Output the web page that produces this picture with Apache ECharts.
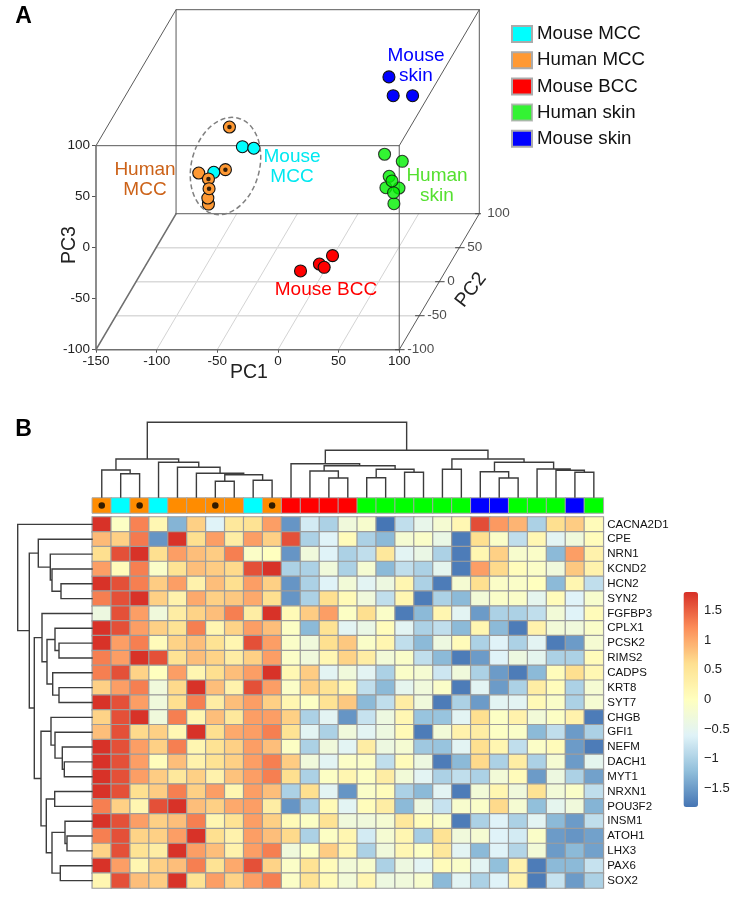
<!DOCTYPE html>
<html>
<head>
<meta charset="utf-8">
<style>html,body{margin:0;padding:0;background:#fff}#c{width:742px;height:907px}</style>
<script src="https://cdn.jsdelivr.net/npm/echarts@6/dist/echarts.min.js"></script>
</head>
<body>
<div id="c"></div>
<script>
// ---- Panel A: points, as [x, y] on the front-face PC1/PC3 scales
const mouseMCC = [[-29.3,99],[-19.9,97.5],[-52.9,73.9]];
const humanMCCPlain = [[-57.3,42.8],[-57.8,48.7],[-65.3,73.2]];
const humanMCCDotted = [[-40,118.3],[-43.3,76.5],[-57.3,67.4],[-56.8,57.8]];
const mouseBCC = [[45,-7.8],[34.2,-16],[38.1,-19.2],[18.6,-22.8]];
const humanSkin = [[87.9,91.6],[102.5,84.7],[91.7,70],[89,58.8],[99.8,58.5],[95.6,43.1],[95.3,53.9],[94,65.4]];
const mouseSkin = [[91.5,167.4],[95,149],[111,149]];
const pc1Ticks = [-150,-100,-50,0,50,100];
const pc2Ticks = [-100,-50,0,50,100];
const pc3Ticks = [-100,-50,0,50,100];
const legendNames = ['Mouse MCC','Human MCC','Mouse BCC','Human skin','Mouse skin'];

// ---- Panel B
const genes = ['CACNA2D1','CPE','NRN1','KCND2','HCN2','SYN2','FGFBP3','CPLX1','PCSK2','RIMS2','CADPS','KRT8','SYT7','CHGB','GFI1','NEFM','DACH1','MYT1','NRXN1','POU3F2','INSM1','ATOH1','LHX3','PAX6','SOX2'];
const sampleGroups = [1,0,1,0,1,1,1,1,0,1,2,2,2,2,3,3,3,3,3,3,4,4,3,3,3,4,3];
const dottedSamples = [0,2,6,9];
const heat = [
[1.8,-.05,1.28,.15,-1.3,.72,-.6,.45,.55,1.08,-1.55,-.7,-1,-.3,-.15,-1.8,-.85,-.45,-.2,.15,1.62,1.12,.92,-1,.6,.75,.07],
[.88,.72,1.33,-1.55,1.8,.6,1.08,.35,1.08,.72,1.6,-1,-.6,.07,-1,-1.25,-.2,-.1,-.4,-1.75,.6,-.1,-.85,.15,-.55,-.3,.05],
[.6,1.6,1.8,.6,1.08,.85,.75,1.3,-.08,0,-1.55,-.3,-.6,-1,-.85,.45,-.55,-.4,-1,-1.75,.18,.72,-.15,-.1,-1.25,1.08,.25],
[1.08,.07,1.3,-.1,.55,.85,.75,.65,1.6,1.8,-1,-1,-.3,-1,-.2,-1.25,-.85,-1,-.5,-1.75,1.08,.65,.05,-.08,-.3,.78,.25],
[1.8,1.6,1.3,.75,1.08,.25,.85,.6,1.08,.72,-1.55,-1,-.6,-.25,-.55,-.35,.18,-1,-1.75,-.2,.6,-.08,-.1,0,-1.25,.18,-.85],
[1.3,1.6,1.8,.72,.25,1,.72,.78,1,.6,-1.55,-1,.6,.1,-.3,-.85,.18,-1.75,-1,-1.25,-.25,-.1,-.1,-.5,.07,-.6,-.15],
[-.35,1.6,1.08,-.3,.35,.7,.85,1.3,.35,1.8,.1,.75,1.08,-.05,.6,-.1,-1.75,-1.25,.18,-.55,-1.5,-1,-1,-.85,-.25,-.6,.07],
[1.8,1.6,1.08,.72,.55,1.3,.18,.7,1.08,.85,-.05,-1.25,.55,-.55,-.4,.05,-.55,-1,-.85,-1.25,.18,-1.25,-1.75,.25,-.25,-.3,-.1],
[1.8,1.08,1.3,.07,.7,.85,.55,.18,1.6,1.08,-.1,-.3,.6,.78,-.1,.18,-.85,-1.25,-.35,.07,-1,-.6,-1,-.55,-1.75,-1.5,-.2],
[1.3,1.08,1.8,1.6,.55,.85,.7,.35,.72,1.08,-.08,-.3,.15,.7,.35,-.25,-.1,-.85,-1.25,-1.75,-1.5,-.6,-.35,-.5,-1,-1,.07],
[1.3,1.6,.7,0,1.08,.18,.6,.85,1.08,1.8,.15,.75,-.55,-.3,-.55,-1,-.1,-.2,-.75,-.3,-1,-1.5,-1.75,-1.25,.05,.6,.15],
[.72,1.08,1.3,-.3,.65,1.8,.85,.25,1.6,1.08,-.08,.72,.55,.15,-.85,-1.25,-.5,-.3,-.1,-1.75,-.55,-1.5,-1,.35,.05,-1,-.2],
[1.8,1.6,1.08,-.3,.6,1.3,.35,.85,1.08,.72,.18,-.05,.55,.78,-1.25,-.85,.35,-.3,-1.75,-1,-1.5,-.55,-.55,.1,-.1,-1,-.2],
[.7,1.6,1.8,-.3,1.3,.18,.85,.45,1.08,1.08,.72,-1,-.55,-1.55,-.8,-.35,.15,-1.15,-1.15,-.55,.6,-.05,.25,-.25,-.05,.25,-1.75],
[.85,1.6,.65,.72,.15,1.8,.6,1,1.08,1.3,.55,-.55,-1,-.3,-.55,-.35,.1,-1.75,-.25,.25,.35,-.05,-.1,-1.25,-.85,-1.5,-1],
[1.8,1.6,1.08,.72,1.3,.18,.55,.72,1.08,.85,-.05,-1,-.3,-.55,.35,-.35,-.2,-1.1,-1.15,-.55,.6,.18,-.85,-.08,.07,-1.5,-1.75],
[1.8,1.6,1.08,.05,.85,.25,.55,.72,1.08,1.3,.75,-.3,-.55,-.08,-.08,-.85,.07,-.35,-1.75,-1.25,.65,-1,.35,-1,-.2,-1.5,-.5],
[1.8,1.6,1.08,.75,.45,.72,.25,.82,1.08,1.3,.6,-1,-.05,.18,-.03,.35,-.25,-.55,-1,-.85,-1,-.25,.07,-1.5,-.35,-1,-1.45],
[1.8,1.6,.6,.75,1.3,.72,1.08,.18,1.08,.85,-1,.6,-.55,-1.55,-.1,.05,-1,-1.25,-.55,-1.75,-.25,.18,-.3,.55,-.25,-.1,-.85],
[1.3,.72,.18,1.6,1.8,.85,.72,1,1.08,.35,-1.55,-1,.1,-.55,.05,.35,-1.25,-.35,-.8,-.15,-.1,.65,-.2,-1.2,-.5,-.3,-1.3],
[1.8,1.6,1.08,.72,.85,1.3,.18,.55,1.08,.72,.1,-.05,.55,-.3,-.3,-.2,.45,.05,-.1,-1.75,-1,-.6,-1,-.55,-1.25,-1.5,-.85],
[1.3,1.6,.7,.72,1.08,1.8,.6,.25,1.08,.85,.65,-1,-.05,.18,-.7,-.2,.18,-1.05,.55,-.3,-.2,-.6,-.7,-.1,-1.5,-1.55,-1.45],
[.7,1.6,.55,.35,1.8,1.08,.85,.25,1.08,1.3,-.3,-.05,.75,.15,-1,-.3,.15,-.05,.45,-.55,-1.25,-.6,-.95,-.25,-1.5,-1.25,-1.45],
[1.8,1.08,.18,.72,.85,1.3,.55,1,1.6,.7,-.08,.55,.07,-.25,-.15,-1,-.35,-.55,.07,-.1,-.55,-1.2,.25,-1.75,-1.25,-1.25,-.8],
[.18,1.6,.85,.75,1.8,.55,1.08,.7,1.08,1.3,-.08,.55,.1,-.25,.18,-.35,-.3,-.15,-1.25,-.55,-1,-.6,.25,-1.75,-.8,-1.5,-1]
];
const colourTicks = [-1.5,-1,-.5,0,.5,1,1.5];
// Dendrograms: [left, right, merge height]; a plain number is a leaf index
const colTree = [
  [[0,[1,2,23.3],27],[3,[4,[5,[[6,7,15.7],[8,9,16.7],22.3],23.7],29.7],34.7],38],
  [[10,[[11,[12,13,19],26],[[14,15,19.3],[16,17,24.7],27.7],31.3],33.3],
   [[18,19,27.7],[[20,[21,22,19],25.3],[23,[24,[25,26,24.7],26.7],28],34.7],38],46.7],
  74.7];
const rowTree = [0,
  [[1,[2,[3,[4,5,31],40],41.7],53.7],
   [[6,[[7,[8,9,33],37],[10,[11,12,33],39.3],45],50],
    [[13,[14,[15,[16,17,27.7],29.7],37],41],
     [[18,19,37.3],[[20,[21,22,25],27],[23,24,31.7],40],45.7],51],57.7],62.7],
  74.3];

// ---- helpers
const FONT = '"Liberation Sans", Arial, sans-serif';
const K1 = 0.33, K3 = 0.6665;
const project = (pc1, pc2, pc3) => [pc1 + (pc2 + 100) * K1, pc3 + (pc2 + 100) * K3];
function segs(list) { const out = []; list.forEach(s => { out.push(...s, [null, null]); }); return out; }

const boxDark = [
  [project(-150,100,-100),project(100,100,-100),project(100,100,100),project(-150,100,100),project(-150,100,-100)],
  [project(-150,-100,100),project(100,-100,100),project(100,-100,-100)],
  [project(-150,-100,100),project(-150,100,100)],
  [project(100,-100,100),project(100,100,100)],
  [project(100,-100,-100),project(100,100,-100)]
];
const boxThick = [
  [project(-150,-100,100),project(-150,-100,-100),project(100,-100,-100)],
  [project(-150,-100,-100),project(-150,100,-100)]
];
const floorPC1 = pc1Ticks.slice(1,5).map(v => [project(v,-100,-100),project(v,100,-100)]);
const floorPC2 = pc2Ticks.slice(1,4).map(v => [project(-150,v,-100),project(100,v,-100)]);
const pc2Marks = pc2Ticks.map(v => { const p = project(100,v,-100); return [[p[0]-3,p[1]],[p[0]+4,p[1]]]; });

function dendro(tree, horizontalLeaves) {
  const lines = [];
  const pt = (pos, h) => horizontalLeaves ? [pos, h] : [h, pos];
  (function walk(n) {
    if (typeof n === 'number') return { pos: n, h: 0 };
    const a = walk(n[0]), b = walk(n[1]), h = n[2];
    lines.push([pt(a.pos,a.h),pt(a.pos,h),pt(b.pos,h),pt(b.pos,b.h)]);
    return { pos: (a.pos + b.pos) / 2, h };
  })(tree);
  return segs(lines);
}

const heatData = [];
heat.forEach((row, r) => row.forEach((v, c) => heatData.push([c, r, v])));
const sampleIds = sampleGroups.map((_, i) => 'S' + (i + 1));
const stops = ['#4575B4','#91BFDB','#E0F3F8','#FFFFBF','#FEE090','#FC8D59','#D73027'];
const groupColours = ['#00FFFF','#FF8C00','#FF0000','#00FF00','#0000FF'];

const line = (name, data, color, width, xi, yi, z) => ({
  name, type:'line', data, xAxisIndex:xi, yAxisIndex:yi, showSymbol:false, symbol:'none', silent:true,
  connectNulls:false, clip:false, lineStyle:{color, width, cap:'square', join:'miter'}, z
});
const pts = (name, data, color) => ({
  name, type:'scatter', data, xAxisIndex:0, yAxisIndex:0, symbol:'circle', symbolSize:12, clip:false, z:5,
  itemStyle:{color, borderColor:'#111', borderWidth:1.1, opacity:1}
});
const txt = (text, x, y, color, size, extra) => Object.assign({
  type:'text', x, y, z:20, style:Object.assign({text, fill:color, font:`${size}px ${FONT}`, align:'center', verticalAlign:'middle', lineHeight:size+0.5}, extra||{})
}, {});

const option = {
  animation:false,
  backgroundColor:'#fff',
  textStyle:{fontFamily:FONT},
  legend:{
    data:legendNames, orient:'vertical', left:511, top:24, padding:0, itemWidth:20, itemHeight:16, itemGap:6.2,
    icon:'rect', selectedMode:false,
    itemStyle:{borderColor:'#ABABAB',borderWidth:2},
    textStyle:{fontFamily:FONT,fontSize:18.7,color:'#111',lineHeight:20}
  },
  grid:[
    {left:96,top:9.7,width:383.3,height:340,containLabel:false},
    {left:92.3,top:517,width:511,height:371},
    {left:92.3,top:498,width:511,height:15},
    {left:92.3,top:422,width:511,height:75},
    {left:17,top:517,width:75,height:371},
    {left:684,top:592,width:14,height:215}
  ],
  xAxis:[
    {type:'value',gridIndex:0,min:-150,max:166,
      axisLine:{show:false,onZero:false},splitLine:{show:false},
      axisTick:{show:true,length:3,customValues:pc1Ticks,lineStyle:{color:'#555'}},
      axisLabel:{customValues:pc1Ticks,margin:5,color:'#222',fontSize:13.5,fontFamily:FONT,hideOverlap:false,showMinLabel:true,showMaxLabel:true}},
    {type:'category',gridIndex:1,data:sampleIds,show:false},
    {type:'category',gridIndex:2,data:sampleIds,show:false},
    {type:'value',gridIndex:3,min:-0.5,max:26.5,show:false},
    {type:'value',gridIndex:4,min:0,max:75,inverse:true,show:false},
    {type:'value',gridIndex:5,min:0,max:1,show:false}
  ],
  yAxis:[
    {type:'value',gridIndex:0,min:-100,max:233.3,
      axisLine:{show:false,onZero:false},splitLine:{show:false},
      axisTick:{show:true,length:4,customValues:pc3Ticks,lineStyle:{color:'#555'}},
      axisLabel:{customValues:pc3Ticks,margin:6,color:'#222',fontSize:13.5,fontFamily:FONT}},
    {type:'category',gridIndex:1,data:genes,inverse:true,position:'right',
      axisLine:{show:false},axisTick:{show:false},splitLine:{show:false},
      axisLabel:{interval:0,margin:4,color:'#111',fontSize:11.5,fontFamily:FONT}},
    {type:'category',gridIndex:2,data:['annotation'],show:false},
    {type:'value',gridIndex:3,min:0,max:75,show:false},
    {type:'value',gridIndex:4,min:-0.5,max:24.5,inverse:true,show:false},
    {type:'value',gridIndex:5,min:-1.81,max:1.81,position:'right',
      axisLine:{show:false},axisTick:{show:false},splitLine:{show:false},
      axisLabel:{customValues:colourTicks,margin:6,color:'#222',fontSize:13,fontFamily:FONT,
        formatter:v=>String(v).replace('-','\u2212')}}
  ],
  visualMap:[
    {type:'continuous',seriesIndex:0,min:-1.81,max:1.81,calculable:false,left:683.5,top:592,itemWidth:14.5,itemHeight:215,
      inRange:{color:stops},text:['',''],padding:0,textGap:0,hoverLink:false,realtime:false},
    {type:'piecewise',seriesIndex:1,show:false,dimension:2,
      pieces:groupColours.map((color,i)=>({value:i,color}))}
  ],
  series:[
    {name:'Expression',type:'heatmap',xAxisIndex:1,yAxisIndex:1,data:heatData,progressive:0,
      itemStyle:{borderColor:'#9C9C9C',borderWidth:1.2},emphasis:{disabled:true}},
    {name:'Group',type:'heatmap',xAxisIndex:2,yAxisIndex:2,progressive:0,
      data:sampleGroups.map((g,i)=>[i,0,g]),
      itemStyle:{borderColor:'#A8A8A8',borderWidth:1},emphasis:{disabled:true}},
    {name:'Dotted samples',type:'scatter',xAxisIndex:2,yAxisIndex:2,symbol:'circle',symbolSize:6.5,z:6,
      data:dottedSamples.map(i=>[i,0]),itemStyle:{color:'#000'}},
    line('Top dendrogram',dendro(colTree,true),'#3c3c3c',1.4,3,3,3),
    line('Left dendrogram',dendro(rowTree,false),'#3c3c3c',1.4,4,4,3),
    line('PC1 floor lines',segs(floorPC1),'#C8C8C8',0.8,0,0,1),
    line('PC2 floor lines',segs(floorPC2),'#DADADA',1.5,0,0,1),
    line('Box',segs(boxDark),'#5a5a5a',1,0,0,2),
    line('Box thick',segs(boxThick),'#707070',1.6,0,0,2),
    line('PC2 ticks',segs(pc2Marks),'#444',1,0,0,2),
    {name:'PC2 labels',type:'scatter',xAxisIndex:0,yAxisIndex:0,symbolSize:0,clip:false,silent:true,z:3,
      data:pc2Ticks.map(v=>project(100,v,-100).concat(v)),
      label:{show:true,position:'right',distance:8,color:'#222',fontSize:13.5,fontFamily:FONT,formatter:p=>String(p.value[2])}},
    pts('Mouse MCC',mouseMCC,'#00FFFF'),
    pts('Human MCC',humanMCCPlain.concat(humanMCCDotted),'#FF9933'),
    {name:'MCC dots',type:'scatter',xAxisIndex:0,yAxisIndex:0,symbol:'circle',symbolSize:4.5,clip:false,z:6,
      data:humanMCCDotted,itemStyle:{color:'#000'}},
    pts('Mouse BCC',mouseBCC,'#FF0000'),
    Object.assign(pts('Human skin',humanSkin,'#00FF00'),{itemStyle:{color:'#00F000',borderColor:'#111',borderWidth:1.1}}),
    pts('Mouse skin',mouseSkin,'#0000FF')
  ],
  graphic:{elements:[
    txt('A',23.5,17,'#000',23,{font:`900 23px ${FONT}`}),
    txt('B',23.5,429.5,'#000',23,{font:`900 23px ${FONT}`}),
    txt('PC1',249,373,'#222',19.5),
    {type:'text',x:70,y:245,rotation:Math.PI/2,z:20,style:{text:'PC3',fill:'#222',font:`19.5px ${FONT}`,align:'center',verticalAlign:'middle'}},
    {type:'text',x:471,y:290,rotation:0.92,z:20,style:{text:'PC2',fill:'#222',font:`19.5px ${FONT}`,align:'center',verticalAlign:'middle'}},
    txt('Mouse\nskin',416,65.5,'#0000FF',19,{lineHeight:20}),
    txt('Human\nMCC',145,180,'#CC6218',19,{lineHeight:20}),
    txt('Mouse\nMCC',292,167,'#00E8F0',19,{lineHeight:20}),
    txt('Human\nskin',437,186,'#55E030',19,{lineHeight:20}),
    txt('Mouse BCC',326,290,'#FF0000',19),
    {type:'ellipse',x:225.5,y:166,rotation:-0.26,z:8,shape:{cx:0,cy:0,rx:34,ry:49.5},
      style:{fill:'none',stroke:'#808080',lineWidth:1.5,lineDash:[5,3]}}
  ]}
};
const chart = echarts.init(document.getElementById('c'), null, {width:742,height:907,renderer:'canvas'});
chart.setOption(option);
</script>
</body>
</html>
